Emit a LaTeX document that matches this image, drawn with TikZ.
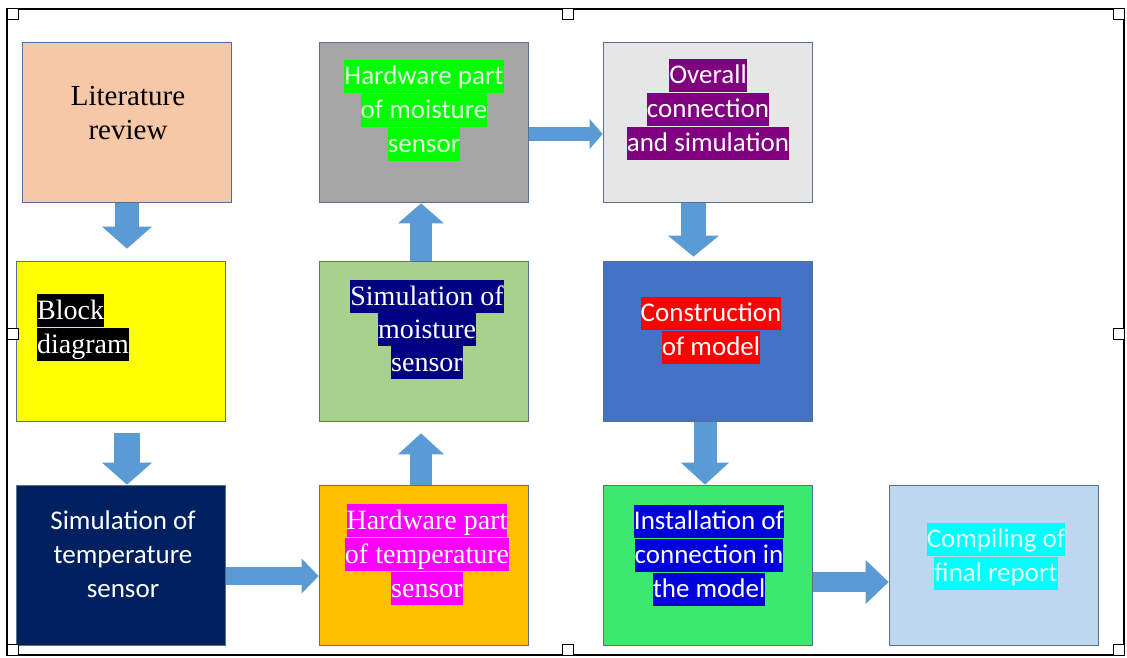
\documentclass[tikz,border=0pt]{standalone}
\usepackage{fontspec}
\setmainfont{Liberation Serif}
\newfontfamily\calib{Carlito}
\usetikzlibrary{arrows.meta}

% box fills
\definecolor{litfill}{HTML}{F6C8A8}
\definecolor{blockfill}{HTML}{FFFF00}
\definecolor{simtfill}{HTML}{002060}
\definecolor{hwmfill}{HTML}{A5A5A5}
\definecolor{simmfill}{HTML}{A9D18E}
\definecolor{hwtfill}{HTML}{FFC000}
\definecolor{ovrfill}{HTML}{E7E6E6}
\definecolor{confill}{HTML}{4472C4}
\definecolor{insfill}{HTML}{3DE86E}
\definecolor{compfill}{HTML}{BDD7EE}
\definecolor{boxline}{HTML}{56708F}
\definecolor{arrowblue}{HTML}{5B9BD5}
% text highlights
\definecolor{hlgreen}{HTML}{00FF00}
\definecolor{hlnavy}{HTML}{000080}
\definecolor{hlmagenta}{HTML}{FF00FF}
\definecolor{hlpurple}{HTML}{800080}
\definecolor{hlred}{HTML}{FF0000}
\definecolor{hlblue}{HTML}{0000DC}
\definecolor{hlcyan}{HTML}{00FFFF}
\definecolor{palegreen}{HTML}{E2FFE2}
\definecolor{palecyan}{HTML}{E2FFFF}

% one highlighted line of text
\newcommand\lnstrut{\rule[-8pt]{0pt}{33pt}}
\newcommand\hl[3]{{\setlength\fboxsep{0pt}\colorbox{#1}{\textcolor{#2}{\lnstrut#3}}}}

\tikzset{
  stagebox/.style={draw=boxline, line width=1.7pt, fill=#1, inner sep=0pt,
    minimum width=209pt, minimum height=160pt},
  sertxt/.style={inner sep=0pt, align=center, font=\fontsize{28}{34}\selectfont},
  santxt/.style={inner sep=0pt, align=center, font=\calib\fontsize{27}{34}\selectfont},
  blk/.style n args={3}{arrowblue, line width=#1pt,
    -{Triangle[width=#2pt,length=#3pt,line width=0pt]}},
  handle/.style={draw=black, fill=white, line width=1pt}
}

\begin{document}
\begin{tikzpicture}[x=1pt,y=-1pt]
\useasboundingbox (0,0) rectangle (1127,658);

% outer frame
\draw[line width=1.4pt] (7,9) rectangle (1124,655);

% stages
\node[stagebox=litfill]   (lit)   at (127,122.5) {};
\node[stagebox=blockfill] (block) at (121,341.5) {};
\node[stagebox=simtfill]  (simt)  at (121,565.5) {};
\node[stagebox=hwmfill]   (hwm)   at (424,122.5) {};
\node[stagebox=simmfill]  (simm)  at (424,341.5) {};
\node[stagebox=hwtfill]   (hwt)   at (424,565.5) {};
\node[stagebox=ovrfill]   (ovr)   at (708,122.5) {};
\node[stagebox=confill]   (con)   at (708,341.5) {};
\node[stagebox=insfill]   (ins)   at (708,565.5) {};
\node[stagebox=compfill]  (comp)  at (994,565.5) {};

% labels
\node[sertxt, font=\fontsize{29}{34}\selectfont] (lit-t) at (128,114.5) {\lnstrut Literature\\\lnstrut review};
\node[sertxt, align=left, anchor=west] (block-t) at (37,327.5)
  {\hl{black}{white}{Block}\\\hl{black}{white}{diagram}};
\node[santxt, text=white] (simt-t) at (123,555)
  {\lnstrut Simulation of\\\lnstrut temperature\\\lnstrut sensor};
\node[santxt] (hwm-t) at (424,110.5)
  {\hl{hlgreen}{palegreen}{Hardware part}\\\hl{hlgreen}{palegreen}{of moisture}\\\hl{hlgreen}{palegreen}{sensor}};
\node[sertxt, font=\fontsize{28}{33}\selectfont] (simm-t) at (427,329.5)
  {\hl{hlnavy}{white}{Simulation of}\\\hl{hlnavy}{white}{moisture}\\\hl{hlnavy}{white}{sensor}};
\node[sertxt] (hwt-t) at (427,554.5)
  {\hl{hlmagenta}{white}{Hardware part}\\\hl{hlmagenta}{white}{of temperature}\\\hl{hlmagenta}{white}{sensor}};
\node[santxt] (ovr-t) at (708,109.5)
  {\hl{hlpurple}{white}{Overall}\\\hl{hlpurple}{white}{connection}\\\hl{hlpurple}{white}{and simulation}};
\node[santxt] (con-t) at (711,330)
  {\hl{hlred}{white}{Construction}\\\hl{hlred}{white}{of model}};
\node[santxt] (ins-t) at (709,555)
  {\hl{hlblue}{white}{Installation of}\\\hl{hlblue}{white}{connection in}\\\hl{hlblue}{white}{the model}};
\node[santxt] (comp-t) at (996,556)
  {\hl{hlcyan}{palecyan}{Compiling of}\\\hl{hlcyan}{palecyan}{final report}};

% block arrows between stages
\draw[blk={24}{50}{22}, shorten >=12pt] (lit.south) -- (lit.south |- block.north);
\draw[blk={26}{50}{22}, shorten <=11pt] (block.south -| lit.south) -- (simt.north -| lit.south);
\draw[blk={18}{35}{17}] ([yshift=-10.5pt]simt.east) -- ([yshift=-10.5pt]simt.east -| hwt.west);
\draw[blk={22}{46}{21}, shorten >=11pt] ([xshift=-3pt]hwt.north) -- ([xshift=-3pt]simm.south);
\draw[blk={22}{46}{20}] ([xshift=-3pt]simm.north) -- ([xshift=-3pt]hwm.south);
\draw[blk={14}{30}{13}] ([yshift=-11.5pt]hwm.east) -- ([yshift=-11.5pt]hwm.east -| ovr.west);
\draw[blk={25}{51}{21}, shorten >=4pt] ([xshift=-14.5pt]ovr.south) -- ([xshift=-14.5pt]con.north);
\draw[blk={23}{48}{22}] ([xshift=-3pt]con.south) -- ([xshift=-3pt]ins.north);
\draw[blk={20}{44}{23}] ([yshift=-16.5pt]ins.east) -- ([yshift=-16.5pt]ins.east -| comp.west);

% sizing handles on the frame
\foreach \hx/\hy in {7/9, 562.5/9, 1113/9, 7/328, 1113/328, 7/644, 562.5/644, 1113/644}
  \draw[handle] (\hx,\hy) rectangle ++(11,11);
\end{tikzpicture}
\end{document}
